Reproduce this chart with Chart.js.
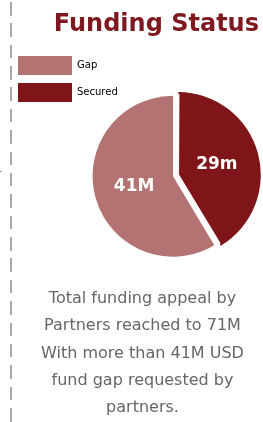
<!DOCTYPE html>
<html>
<head>
<meta charset="utf-8">
<script src="https://cdn.jsdelivr.net/npm/chart.js@4"></script>
<style>
  html, body { margin: 0; padding: 0; background: #fff; width: 263px; height: 422px; overflow: hidden; }
  #wrap { position: relative; width: 263px; height: 422px; }
  #dash { position: absolute; left: 10px; top: 2px; width: 2px; height: 420px;
    background: repeating-linear-gradient(to bottom, #a9a9a9 0px, #a9a9a9 13.5px, transparent 13.5px, transparent 21.37px); }
  #tick { position: absolute; left: 0; top: 171px; width: 2px; height: 1px; background: #888; }
  #cv { position: absolute; left: 0; top: 0; }
  #title { position: absolute; right: 4px; top: 9px; margin: 0; white-space: nowrap;
    font-family: "DejaVu Sans", sans-serif; font-weight: bold; font-size: 24px; line-height: 28.8px; color: #7e1a1f; }
  #note { position: absolute; left: 22px; width: 241px; top: 284px; text-align: center;
    font-family: "DejaVu Sans", sans-serif; font-size: 16px; line-height: 27.3px; color: #666; }
</style>
</head>
<body>
<div id="wrap">
  <div id="dash"></div>
  <div id="tick"></div>
  <canvas id="cv" width="263" height="306" style="width:263px;height:306px"></canvas>
  <h1 id="title"></h1>
  <div id="note">Total funding appeal by<br>Partners reached to 71M<br>With more than 41M USD<br>fund gap requested by<br>partners.</div>
</div>
<script>
const categories = ['Gap', 'Secured'];
const values = [41, 29];
const valueLabels = ['41M', '29m'];
const sliceColors = ['#b37373', '#7f1518'];
const sliceOffsets = [0, 20];
const sliceBorders = [0, 1.2];
const chartTitle = 'Funding Status';

document.getElementById('title').textContent = chartTitle;
Chart.defaults.font.family = '"DejaVu Sans", sans-serif';

const sliceLabels = {
  id: 'sliceLabels',
  afterDatasetsDraw(chart) {
    const meta = chart.getDatasetMeta(0);
    const ctx = chart.ctx;
    ctx.save();
    ctx.font = 'bold 17px "DejaVu Sans", sans-serif';
    ctx.fillStyle = '#ffffff';
    ctx.textAlign = 'center';
    ctx.textBaseline = 'middle';
    meta.data.forEach((arc, i) => {
      const p = arc.getProps(['x', 'y', 'startAngle', 'endAngle', 'outerRadius'], true);
      const mid = (p.startAngle + p.endAngle) / 2;
      const shift = (arc.options.offset || 0) / 4;
      const r = p.outerRadius / 2 + shift;
      ctx.fillText(valueLabels[i], p.x + Math.cos(mid) * r, p.y + Math.sin(mid) * r);
    });
    ctx.restore();
  }
};

const total = values.reduce((a, b) => a + b, 0);

new Chart(document.getElementById('cv'), {
  type: 'pie',
  data: {
    labels: categories,
    datasets: [{
      data: values,
      backgroundColor: sliceColors,
      borderColor: '#ffffff',
      borderWidth: sliceBorders,
      borderAlign: 'inner',
      offset: sliceOffsets,
      radius: 80.8
    }]
  },
  options: {
    responsive: false,
    animation: false,
    rotation: 360 * values[1] / total,
    layout: { padding: { left: 10, right: 35.6, top: 48, bottom: 1.6 } },
    plugins: {
      title: { display: false },
      legend: {
        position: 'left',
        align: 'start',
        fullSize: false,
        labels: {
          boxWidth: 54,
          boxHeight: 19,
          padding: 8,
          color: '#666',
          font: { size: 10 },
          generateLabels: () => categories.map((c, i) => ({
            text: c,
            fillStyle: sliceColors[i],
            strokeStyle: sliceColors[i],
            lineWidth: 0,
            hidden: false,
            index: i
          }))
        }
      },
      tooltip: { enabled: false }
    }
  },
  plugins: [sliceLabels]
});
</script>
</body>
</html>
